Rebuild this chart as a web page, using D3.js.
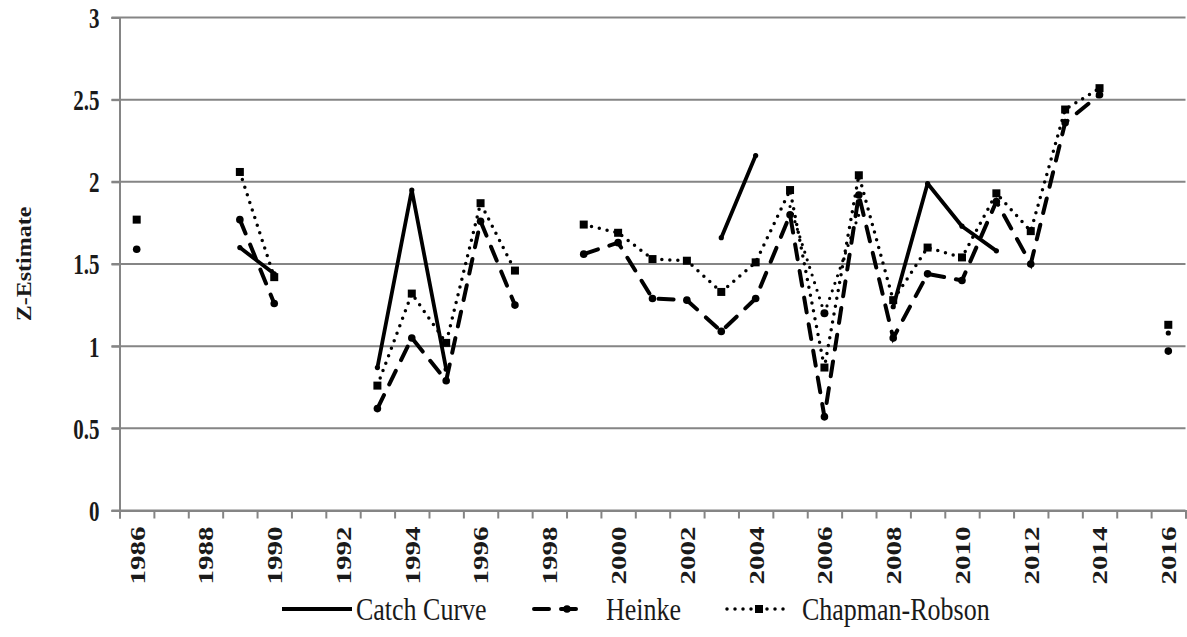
<!DOCTYPE html>
<html>
<head>
<meta charset="utf-8">
<script src="https://cdn.jsdelivr.net/npm/d3@7"></script>
<style>
  body { margin: 0; background: #fff; }
  text { font-family: "Liberation Serif", "Times New Roman", serif; fill: #1a1a1a; }
</style>
</head>
<body>
<div id="vis"></div>
<script>
const FRAME_WIDTH = 1187;
const FRAME_HEIGHT = 637;
const MARGINS = {left: 119.5, right: 1.5, top: 17.5, bottom: 126.5};
const FONT = "'Liberation Serif', 'Times New Roman', serif";
// the source picture is stretched vertically, so text is too
const STRETCH = 1.38;

// years on the x axis
const years = d3.range(1986, 2017);
const labelYears = d3.range(1986, 2017, 2);
const yTicks = [0, 0.5, 1, 1.5, 2, 2.5, 3];

// series values, one per year (null = no estimate)
const catchCurve = [null, null, null, 1.60, 1.44, null, null, 0.87, 1.95, 0.86,
  null, null, null, null, null, null, null, 1.66, 2.16, null,
  null, null, 1.24, 1.99, 1.73, 1.58, null, null, null, null, 1.08];
const heinke = [1.59, null, null, 1.77, 1.26, null, null, 0.62, 1.05, 0.79,
  1.76, 1.25, null, 1.56, 1.63, 1.29, 1.28, 1.09, 1.29, 1.80,
  0.57, 1.92, 1.05, 1.44, 1.40, 1.88, 1.50, 2.36, 2.53, null, 0.97];
const chapmanRobson = [1.77, null, null, 2.06, 1.42, null, null, 0.76, 1.32, 1.02,
  1.87, 1.46, null, 1.74, 1.69, 1.53, 1.52, 1.33, 1.51, 1.95,
  0.87, 2.04, 1.28, 1.60, 1.54, 1.93, 1.70, 2.44, 2.57, null, 1.13];
// faint extra dotted trace visible around 2006
const extraYears = [2005, 2006, 2007];
const extraValues = [1.85, 1.20, 1.80];

const VIS_WIDTH = FRAME_WIDTH - MARGINS.left - MARGINS.right;
const VIS_HEIGHT = FRAME_HEIGHT - MARGINS.top - MARGINS.bottom;

const svg = d3.select("#vis").append("svg")
  .attr("width", FRAME_WIDTH)
  .attr("height", FRAME_HEIGHT);

const X_SCALE = d3.scaleLinear()
  .domain([1985.5, 2016.5])
  .range([MARGINS.left, MARGINS.left + VIS_WIDTH]);

const Y_SCALE = d3.scaleLinear()
  .domain([0, 3])
  .range([MARGINS.top + VIS_HEIGHT, MARGINS.top]);

const GRID = "#858585";

// gridlines (with little tick stubs on the left)
svg.append("g")
  .selectAll("line")
  .data(yTicks)
  .enter()
  .append("line")
    .attr("x1", MARGINS.left - 8)
    .attr("x2", MARGINS.left + VIS_WIDTH)
    .attr("y1", d => Y_SCALE(d))
    .attr("y2", d => Y_SCALE(d))
    .attr("stroke", GRID)
    .attr("stroke-width", 2);

// y axis
const yAxis = svg.append("g")
  .attr("transform", "translate(" + MARGINS.left + ",0)")
  .call(d3.axisLeft(Y_SCALE).tickValues(yTicks).tickSize(8).tickPadding(12)
    .tickFormat(d => d % 1 === 0 ? d3.format("d")(d) : d3.format(".1f")(d)));
yAxis.select(".domain").attr("stroke", GRID).attr("stroke-width", 2);
yAxis.selectAll(".tick line").attr("stroke", GRID).attr("stroke-width", 2);
yAxis.selectAll("text")
  .attr("dy", "0.34em")
  .attr("transform", "scale(1," + STRETCH + ")")
  .attr("font-size", "21px")
  .attr("font-weight", "bold")
  .attr("font-family", FONT)
  .attr("fill", "#1a1a1a");

// x axis: tick marks at the year boundaries
const xAxis = svg.append("g")
  .attr("transform", "translate(0," + Y_SCALE(0) + ")")
  .call(d3.axisBottom(X_SCALE).tickValues(d3.range(1985.5, 2017, 1)).tickSize(8).tickFormat(""));
xAxis.select(".domain").attr("stroke", GRID).attr("stroke-width", 2);
xAxis.selectAll(".tick line").attr("stroke", GRID).attr("stroke-width", 2);

// x labels, rotated, centred on every other year
const xLabels = svg.append("g")
  .attr("transform", "translate(0," + Y_SCALE(0) + ")")
  .call(d3.axisBottom(X_SCALE).tickValues(labelYears).tickSize(0).tickFormat(d3.format("d")));
xLabels.select(".domain").remove();
xLabels.selectAll("text")
  .attr("transform", "rotate(-90) scale(" + STRETCH + ",1)")
  .attr("text-anchor", "end")
  .attr("x", -16 / STRETCH)
  .attr("y", 0)
  .attr("dy", "0.35em")
  .attr("font-size", "21px")
  .attr("font-weight", "bold")
  .attr("font-family", FONT)
  .attr("fill", "#1a1a1a");

// y title
svg.append("text")
  .attr("transform", "translate(24," + (MARGINS.top + VIS_HEIGHT / 2) + ") rotate(-90) scale(1.2,1)")
  .attr("text-anchor", "middle")
  .attr("dy", "0.35em")
  .attr("font-size", "20px")
  .attr("font-weight", "bold")
  .text("Z-Estimate");

function toPoints(vals) {
  return years.map((y, i) => ({year: y, v: vals[i]}));
}

const line = d3.line()
  .defined(d => d.v !== null)
  .x(d => X_SCALE(d.year))
  .y(d => Y_SCALE(d.v));

const plot = svg.append("g");

// extra faint dotted trace
const extraPts = extraYears.map((y, i) => ({year: y, v: extraValues[i]}));
plot.append("path")
  .datum(extraPts)
  .attr("d", line)
  .attr("fill", "none")
  .attr("stroke", "#000")
  .attr("stroke-width", 3.2)
  .attr("stroke-linecap", "round")
  .attr("stroke-dasharray", "0,8");
plot.append("circle")
  .attr("cx", X_SCALE(extraYears[1]))
  .attr("cy", Y_SCALE(extraValues[1]))
  .attr("r", 4)
  .attr("fill", "#000");

// Chapman-Robson: dotted with square markers
const crPts = toPoints(chapmanRobson);
plot.append("path")
  .datum(crPts)
  .attr("d", line)
  .attr("fill", "none")
  .attr("stroke", "#000")
  .attr("stroke-width", 3.5)
  .attr("stroke-linecap", "round")
  .attr("stroke-dasharray", "0,8");
plot.selectAll(".crm")
  .data(crPts.filter(d => d.v !== null))
  .enter()
  .append("rect")
    .attr("class", "crm")
    .attr("x", d => X_SCALE(d.year) - 4)
    .attr("y", d => Y_SCALE(d.v) - 4)
    .attr("width", 8)
    .attr("height", 8)
    .attr("fill", "#000");

// Heinke: long dashes with round markers
const hPts = toPoints(heinke);
plot.append("path")
  .datum(hPts)
  .attr("d", line)
  .attr("fill", "none")
  .attr("stroke", "#000")
  .attr("stroke-width", 4)
  .attr("stroke-linecap", "round")
  .attr("stroke-dasharray", "15,12");
plot.selectAll(".hm")
  .data(hPts.filter(d => d.v !== null))
  .enter()
  .append("circle")
    .attr("class", "hm")
    .attr("cx", d => X_SCALE(d.year))
    .attr("cy", d => Y_SCALE(d.v))
    .attr("r", 3.8)
    .attr("fill", "#000");

// Catch Curve: solid
const ccPts = toPoints(catchCurve);
plot.append("path")
  .datum(ccPts)
  .attr("d", line)
  .attr("fill", "none")
  .attr("stroke", "#000")
  .attr("stroke-width", 3.8)
  .attr("stroke-linejoin", "round")
  .attr("stroke-linecap", "round");
plot.selectAll(".ccm")
  .data(ccPts.filter(d => d.v !== null))
  .enter()
  .append("circle")
    .attr("class", "ccm")
    .attr("cx", d => X_SCALE(d.year))
    .attr("cy", d => Y_SCALE(d.v))
    .attr("r", 2.6)
    .attr("fill", "#000");

// legend
const LEG_Y = 609;
const legend = svg.append("g");

function legendText(x, label) {
  legend.append("text")
    .attr("transform", "translate(" + x + "," + LEG_Y + ") scale(1,1.2)")
    .attr("dy", "0.35em")
    .attr("font-size", "26px")
    .text(label);
}

legend.append("line")
  .attr("x1", 282).attr("x2", 352).attr("y1", LEG_Y).attr("y2", LEG_Y)
  .attr("stroke", "#000").attr("stroke-width", 3.8);
legendText(356, "Catch Curve");

legend.append("line")
  .attr("x1", 534).attr("x2", 585).attr("y1", LEG_Y).attr("y2", LEG_Y)
  .attr("stroke", "#000").attr("stroke-width", 4)
  .attr("stroke-linecap", "round").attr("stroke-dasharray", "15,12");
legend.append("circle").attr("cx", 567).attr("cy", LEG_Y).attr("r", 3.8).attr("fill", "#000");
legendText(606, "Heinke");

legend.append("line")
  .attr("x1", 727).attr("x2", 791).attr("y1", LEG_Y).attr("y2", LEG_Y)
  .attr("stroke", "#000").attr("stroke-width", 3.5)
  .attr("stroke-linecap", "round").attr("stroke-dasharray", "0,8");
legend.append("rect").attr("x", 755).attr("y", LEG_Y - 4).attr("width", 8).attr("height", 8).attr("fill", "#000");
legendText(802, "Chapman-Robson");
</script>
</body>
</html>
